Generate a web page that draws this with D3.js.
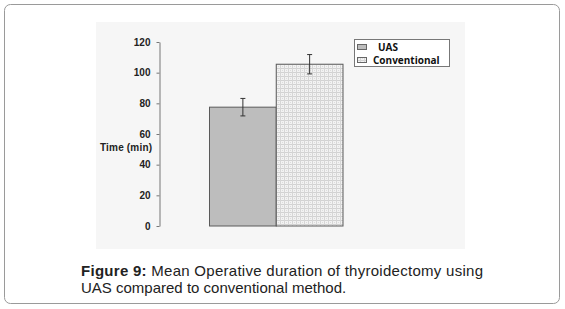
<!DOCTYPE html>
<html>
<head>
<meta charset="utf-8">
<script src="https://cdn.jsdelivr.net/npm/d3@7"></script>
<style>
  body { margin: 0; background: #fff; }
  svg { display: block; }
</style>
</head>
<body>
<script>
// data
var groups = ["UAS", "Conventional"];
var means = [77.5, 105.5];
var errs = [5.7, 6.3];
var yTicks = [0, 20, 40, 60, 80, 100, 120];

var width = 565, height = 309;

var svg = d3.select("body").append("svg")
  .attr("width", width)
  .attr("height", height);

// fine grid pattern for the conventional bar
var defs = svg.append("defs");
var pat = defs.append("pattern")
  .attr("id", "hatch")
  .attr("patternUnits", "userSpaceOnUse")
  .attr("width", 4).attr("height", 4);
pat.append("rect").attr("width", 4).attr("height", 4).attr("fill", "#f2f2f2");
pat.append("rect").attr("x", 0).attr("y", 0).attr("width", 4).attr("height", 1).attr("fill", "#d2d2d2");
pat.append("rect").attr("x", 0).attr("y", 0).attr("width", 1).attr("height", 4).attr("fill", "#d6d6d6");
pat.append("rect").attr("x", 2).attr("y", 2).attr("width", 1).attr("height", 1).attr("fill", "#dcdcdc");

// outer frame
svg.append("rect")
  .attr("x", 4.5).attr("y", 4.5)
  .attr("width", 555).attr("height", 299)
  .attr("rx", 6)
  .attr("fill", "#fff")
  .attr("stroke", "#9a9a9a");

// plot background
svg.append("rect")
  .attr("x", 96).attr("y", 22)
  .attr("width", 369).attr("height", 227)
  .attr("fill", "#f6f6f6");

var y = d3.scaleLinear().domain([0, 120]).range([226, 42]);
var x = d3.scaleBand().domain(groups).range([209.5, 343]).padding(0);

var fills = ["#bdbdbd", "url(#hatch)"];

svg.append("g").selectAll("rect")
  .data(groups)
  .enter().append("rect")
  .attr("x", function(d) { return x(d); })
  .attr("y", function(d, i) { return y(means[i]); })
  .attr("width", x.bandwidth())
  .attr("height", function(d, i) { return y(0) - y(means[i]); })
  .attr("fill", function(d, i) { return fills[i]; })
  .attr("stroke", "#5a5a5a")
  .attr("stroke-width", 1);

// error bars
var eb = svg.append("g").attr("stroke", "#333").attr("stroke-width", 1);
groups.forEach(function(g, i) {
  var cx = x(g) + x.bandwidth() / 2;
  var y1 = y(means[i] + errs[i]), y2 = y(means[i] - errs[i]);
  eb.append("line").attr("x1", cx).attr("x2", cx).attr("y1", y1).attr("y2", y2);
  eb.append("line").attr("x1", cx - 2.5).attr("x2", cx + 2.5).attr("y1", y1).attr("y2", y1);
  eb.append("line").attr("x1", cx - 2.5).attr("x2", cx + 2.5).attr("y1", y2).attr("y2", y2);
});

// y axis
var yAxis = svg.append("g")
  .attr("transform", "translate(159.5,0)")
  .call(d3.axisLeft(y).tickValues(yTicks).tickSize(3).tickSizeOuter(0).tickPadding(6));
yAxis.select(".domain").attr("stroke", "#777");
yAxis.selectAll(".tick line").attr("stroke", "#777");
yAxis.selectAll(".tick text")
  .attr("fill", "#222")
  .style("font-family", "Arial, 'Liberation Sans', sans-serif")
  .style("font-size", "10px")
  .style("font-weight", "bold");

svg.append("text")
  .attr("x", 100).attr("y", 151)
  .attr("fill", "#222")
  .attr("textLength", 52)
  .style("font-family", "Arial, 'Liberation Sans', sans-serif")
  .style("font-size", "10px")
  .style("font-weight", "bold")
  .text("Time (min)");

// legend
var lg = svg.append("g");
lg.append("rect")
  .attr("x", 354.5).attr("y", 39.5)
  .attr("width", 95).attr("height", 27)
  .attr("fill", "#fff")
  .attr("stroke", "#777");
var legY = [44, 57];
var legX = [378, 373];
groups.forEach(function(g, i) {
  lg.append("rect")
    .attr("x", 357.5).attr("y", legY[i] + 0.5)
    .attr("width", 9).attr("height", 5)
    .attr("fill", fills[i])
    .attr("stroke", "#666");
  lg.append("text")
    .attr("x", legX[i]).attr("y", legY[i] + 7)
    .attr("fill", "#111")
    .style("font-family", "'Open Sans', Calibri, sans-serif")
    .style("font-size", "10px")
    .style("font-weight", "bold")
    .text(g);
});

// caption
var capFont = "Arial, 'Liberation Sans', sans-serif";
var l1 = svg.append("text")
  .attr("x", 81).attr("y", 275.5)
  .attr("fill", "#222")
  .attr("textLength", 402)
  .attr("lengthAdjust", "spacing")
  .style("font-family", capFont)
  .style("font-size", "15px");
l1.append("tspan").style("font-weight", "bold").text("Figure 9:");
l1.append("tspan").text(" Mean Operative duration of thyroidectomy using");
svg.append("text")
  .attr("x", 81).attr("y", 292.5)
  .attr("fill", "#222")
  .style("font-family", capFont)
  .style("font-size", "15px")
  .text("UAS compared to conventional method.");
</script>
</body>
</html>
